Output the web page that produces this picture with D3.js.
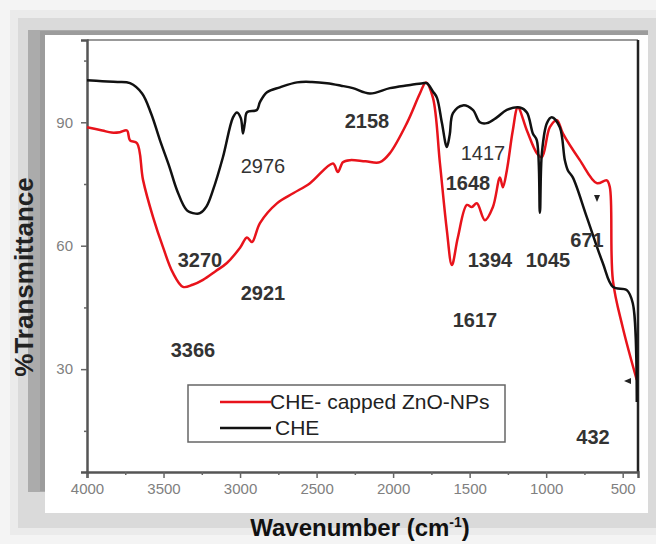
<!DOCTYPE html>
<html>
<head>
<meta charset="utf-8">
<script src="https://cdn.jsdelivr.net/npm/d3@7"></script>
<style>
    body { margin: 0; background: #f4f4f4; }
    svg { display: block; font-family: "Liberation Sans", Arial, sans-serif; }
    .tick text { fill: #808080; font-size: 15px; }
    .peak { fill: #333; font-size: 20px; font-weight: bold; }
</style>
</head>
<body>
<svg width="656" height="544"></svg>
<script>
// CHE (black)
var cheWn = [4000, 3900, 3800, 3719, 3640, 3580, 3523, 3460, 3412, 3347, 3290, 3262, 3220, 3177, 3112, 3046, 3020, 2995, 2981, 2968, 2955, 2890, 2870, 2824, 2739, 2628, 2530, 2432, 2340, 2263, 2152, 2021, 1900, 1806, 1780, 1740, 1714, 1681, 1649, 1630, 1609, 1544, 1479, 1433, 1387, 1322, 1257, 1172, 1126, 1087, 1061, 1041, 1028, 995, 963, 911, 878, 858, 826, 734, 630, 564, 473, 434, 408];
var cheT = [100.2, 100, 99.8, 99.5, 97, 92, 85.6, 79, 73.5, 68.6, 67.8, 67.9, 69.5, 73.5, 81.5, 91.2, 92.4, 91, 87.3, 90, 92.4, 93, 94.9, 97.3, 98.5, 99.7, 99.8, 99.5, 98.9, 98.3, 97, 98.3, 99, 99.5, 99.5, 97.5, 96, 89.8, 84, 87, 92.2, 94.1, 93, 90, 89.8, 91.2, 93, 93.6, 92.4, 87.3, 85.6, 68, 82.5, 89.8, 91.2, 88.8, 80.8, 78.3, 76.6, 66.9, 55.8, 50, 49.2, 46, 22];

// CHE- capped ZnO-NPs (red)
var znoWn = [4000, 3900, 3840, 3785, 3739, 3719, 3673, 3634, 3569, 3504, 3440, 3373, 3310, 3242, 3160, 3086, 3000, 2955, 2922, 2870, 2759, 2650, 2543, 2393, 2361, 2328, 2282, 2180, 2086, 2021, 1910, 1825, 1786, 1740, 1694, 1649, 1616, 1577, 1518, 1486, 1453, 1400, 1348, 1302, 1283, 1257, 1218, 1185, 1126, 1061, 1028, 976, 930, 891, 780, 669, 604, 584, 564, 500, 408];
var znoT = [88.8, 88, 87.5, 87.6, 88, 85.6, 84.9, 76, 67, 59.7, 53.5, 50, 50.5, 51.7, 53.8, 55.8, 59.5, 62, 60.9, 65.5, 70.3, 72.8, 75.2, 80, 77.9, 80.3, 80.8, 80.5, 80.3, 82.5, 89.8, 97, 99.7, 96, 80, 63.8, 55.3, 62, 69.9, 69.4, 70.3, 66.2, 69.4, 76.6, 74.2, 78.3, 88, 93.6, 88, 82.5, 81.5, 88.8, 90.5, 87.3, 80.8, 75.2, 75.9, 74.2, 51.6, 40.2, 27.4];

var xTicks = [4000, 3500, 3000, 2500, 2000, 1500, 1000, 500];
var xMinor = [3750, 3250, 2750, 2250, 1750, 1250, 750];
var yTicks = [30, 60, 90];
var yMinor = [15, 45, 75, 105];

var peakLabels = ["2976", "3270", "2921", "3366", "2158", "1417", "1648", "1394", "1045", "671", "1617", "432"];
var peakX = [263, 200, 263, 193, 367, 483, 468, 490, 548, 587, 475, 593];
var peakY = [173, 267, 300, 357, 128, 160, 190, 267, 267, 247, 327, 444];

var svg = d3.select("svg");

// frame / shadow around the figure
svg.append("rect").attr("x", 10).attr("y", 10).attr("width", 646).attr("height", 525).attr("fill", "#ebebeb");
svg.append("rect").attr("x", 18).attr("y", 18).attr("width", 638).attr("height", 510).attr("fill", "#dadada");
svg.append("rect").attr("x", 28).attr("y", 30).attr("width", 620).attr("height", 462).attr("fill", "#ababab");
svg.append("rect").attr("x", 40).attr("y", 31).attr("width", 608).attr("height", 460).attr("fill", "#9c9c9c");
svg.append("rect").attr("x", 45).attr("y", 35).attr("width", 603).attr("height", 478).attr("fill", "#fff");

var margin = { left: 87, top: 40, right: 638, bottom: 472 };

var x = d3.scaleLinear().domain([4000, 400]).range([margin.left, margin.right]);
var y = d3.scaleLinear().domain([5, 110]).range([margin.bottom, margin.top]);

var g = svg.append("g");

// plot frame
g.append("line").attr("x1", margin.left).attr("x2", margin.right).attr("y1", margin.top).attr("y2", margin.top)
    .attr("stroke", "#777").attr("stroke-width", 1.5);
g.append("line").attr("x1", margin.right).attr("x2", margin.right).attr("y1", margin.top).attr("y2", margin.bottom)
    .attr("stroke", "#222").attr("stroke-width", 2.5);

g.append("g")
    .attr("transform", "translate(0," + margin.bottom + ")")
    .call(d3.axisBottom(x).tickValues(xTicks).tickSize(6).tickPadding(5).tickFormat(d3.format("d")));
g.append("g")
    .attr("transform", "translate(0," + margin.bottom + ")")
    .call(d3.axisBottom(x).tickValues(xMinor).tickSize(3).tickFormat(""))
    .select(".domain").remove();

g.append("g")
    .attr("transform", "translate(" + margin.left + ",0)")
    .call(d3.axisLeft(y).tickValues(yTicks).tickSize(6).tickPadding(8));
g.append("g")
    .attr("transform", "translate(" + margin.left + ",0)")
    .call(d3.axisLeft(y).tickValues(yMinor).tickSize(3).tickFormat(""))
    .select(".domain").remove();

g.selectAll(".domain").attr("stroke", "#555").attr("stroke-width", 2.5);
g.selectAll(".tick line").attr("stroke", "#666").attr("stroke-width", 1.5);

// spectra
var line = d3.line()
    .x(function (d) { return x(d[0]); })
    .y(function (d) { return y(d[1]); })
    .curve(d3.curveCatmullRom.alpha(0.5));

g.append("path")
    .datum(d3.zip(znoWn, znoT))
    .attr("fill", "none").attr("stroke", "#e8131b").attr("stroke-width", 2.5)
    .attr("d", line);

g.append("path")
    .datum(d3.zip(cheWn, cheT))
    .attr("fill", "none").attr("stroke", "#111").attr("stroke-width", 2.5)
    .attr("d", line);

// peak labels
g.selectAll(".peak")
    .data(peakLabels)
    .enter().append("text")
    .attr("class", "peak")
    .attr("x", function (d, i) { return peakX[i]; })
    .attr("y", function (d, i) { return peakY[i]; })
    .attr("text-anchor", "middle")
    .style("font-weight", function (d) { return (d == "2976" || d == "1417") ? "normal" : "bold"; })
    .text(function (d) { return d; });

// small arrow marks
g.append("path").attr("d", "M594,195 L600,195 L597,202 Z").attr("fill", "#222");
g.append("path").attr("d", "M624,381 L631,378 L631,384 Z").attr("fill", "#222");

// legend
var leg = g.append("g");
leg.append("rect").attr("x", 188).attr("y", 385).attr("width", 317).attr("height", 57)
    .attr("fill", "#fff").attr("stroke", "#666").attr("stroke-width", 1.5);
leg.append("line").attr("x1", 220).attr("x2", 271).attr("y1", 402).attr("y2", 402)
    .attr("stroke", "#e8131b").attr("stroke-width", 2.5);
leg.append("line").attr("x1", 220).attr("x2", 271).attr("y1", 428).attr("y2", 428)
    .attr("stroke", "#111").attr("stroke-width", 2.5);
leg.append("text").attr("x", 270).attr("y", 409).attr("fill", "#222").style("font-size", "21px")
    .text("CHE- capped ZnO-NPs");
leg.append("text").attr("x", 275).attr("y", 435).attr("fill", "#222").style("font-size", "21px")
    .text("CHE");

// axis titles
svg.append("text")
    .attr("transform", "translate(33,277) rotate(-90)")
    .attr("text-anchor", "middle")
    .attr("fill", "#222")
    .style("font-size", "26px").style("font-weight", "bold")
    .text("%Transmittance");

var xt = svg.append("text")
    .attr("x", 360).attr("y", 536)
    .attr("text-anchor", "middle")
    .attr("fill", "#111")
    .style("font-size", "24px").style("font-weight", "bold");
xt.append("tspan").text("Wavenumber (cm");
xt.append("tspan").attr("dy", -9).style("font-size", "14px").text("-1");
xt.append("tspan").attr("dy", 9).text(")");
</script>
</body>
</html>
